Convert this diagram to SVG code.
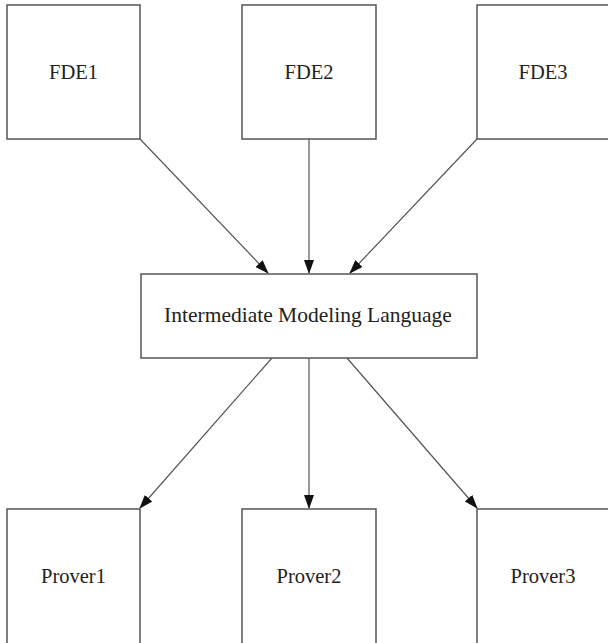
<svg xmlns="http://www.w3.org/2000/svg" width="608" height="643" viewBox="0 0 608 643">
<style>
.box{fill:#fff;stroke:#555;stroke-width:1.5}
.lbl{font-family:"Liberation Serif","DejaVu Serif",serif;font-size:20.5px;fill:#222;text-anchor:middle}
.edge{stroke:#555;stroke-width:1.2;fill:none;marker-end:url(#ah)}
</style>
<defs>
<marker id="ah" markerWidth="14" markerHeight="10" refX="13" refY="5" orient="auto" markerUnits="userSpaceOnUse">
<path d="M0,0 L14,5 L0,10 Z" fill="#111"/>
</marker>
</defs>
<rect width="608" height="643" fill="#fff"/>
<g id="connectors">
<line class="edge" x1="140" y1="139" x2="268" y2="273"/>
<line class="edge" x1="309" y1="139" x2="309" y2="273"/>
<line class="edge" x1="477" y1="139" x2="350" y2="273"/>
<line class="edge" x1="272" y1="358" x2="140" y2="508"/>
<line class="edge" x1="309" y1="358" x2="309" y2="508"/>
<line class="edge" x1="347" y1="358" x2="477" y2="508"/>
</g>
<g id="fde1"><rect class="box" x="7" y="5" width="133" height="134"/><text class="lbl" x="73.5" y="79">FDE1</text></g>
<g id="fde2"><rect class="box" x="242" y="5" width="134" height="134"/><text class="lbl" x="309" y="79">FDE2</text></g>
<g id="fde3"><rect class="box" x="477" y="5" width="140" height="134"/><text class="lbl" x="543" y="79">FDE3</text></g>
<g id="iml"><rect class="box" x="141" y="274" width="336" height="84"/><text class="lbl" x="308" y="322" style="font-size:21.5px">Intermediate Modeling Language</text></g>
<g id="prover1"><rect class="box" x="7" y="509" width="133" height="140"/><text class="lbl" x="73.5" y="583">Prover1</text></g>
<g id="prover2"><rect class="box" x="242" y="509" width="134" height="140"/><text class="lbl" x="309" y="583">Prover2</text></g>
<g id="prover3"><rect class="box" x="477" y="509" width="140" height="140"/><text class="lbl" x="543" y="583">Prover3</text></g>
</svg>
